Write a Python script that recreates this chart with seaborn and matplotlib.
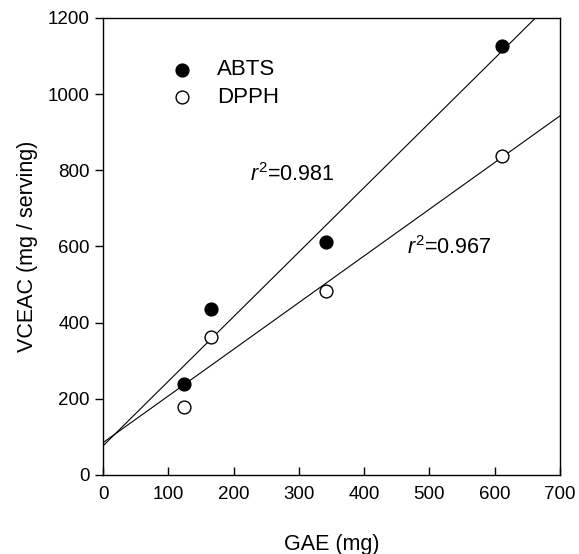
import numpy as np
import pandas as pd
import matplotlib
matplotlib.use("Agg")
import matplotlib.pyplot as plt
import seaborn as sns

sns.set_style("ticks")
plt.rcParams['font.family'] = ['Liberation Sans', 'DejaVu Sans']
plt.rcParams['mathtext.fontset'] = 'custom'
plt.rcParams['mathtext.rm'] = 'Liberation Sans'
plt.rcParams['mathtext.it'] = 'Liberation Sans:italic'
plt.rcParams['text.color'] = 'black'
plt.rcParams['axes.labelcolor'] = 'black'
plt.rcParams['xtick.color'] = 'black'
plt.rcParams['ytick.color'] = 'black'

# GAE (mg) vs VCEAC (mg / serving)
gae = [124, 165, 341, 612]
abts = [239, 435, 611, 1127]
dpph = [178, 363, 484, 837]

df_abts = pd.DataFrame({'GAE': gae, 'VCEAC': abts})
df_dpph = pd.DataFrame({'GAE': gae, 'VCEAC': dpph})

fig = plt.figure(figsize=(5.79, 5.54), dpi=100)
ax = fig.add_axes([0.178, 0.1426, 0.789, 0.825])
ax.set_xlim(0, 700)
ax.set_ylim(0, 1200)

# regression lines (extend to the axis limits)
sns.regplot(x='GAE', y='VCEAC', data=df_abts, ci=None, truncate=False, ax=ax,
            scatter=False, line_kws={'color': 'black', 'lw': 0.8})
sns.regplot(x='GAE', y='VCEAC', data=df_dpph, ci=None, truncate=False, ax=ax,
            scatter=False, line_kws={'color': 'black', 'lw': 0.8})

# points
sns.scatterplot(x='GAE', y='VCEAC', data=df_abts, ax=ax, color='black',
                edgecolor='black', linewidth=1, s=85, zorder=3, label='ABTS')
sns.scatterplot(x='GAE', y='VCEAC', data=df_dpph, ax=ax, color='white',
                edgecolor='black', linewidth=1, s=85, zorder=3, label='DPPH')

ax.set_xlim(0, 700)
ax.set_ylim(0, 1200)
ax.set_xticks(range(0, 701, 100))
ax.set_yticks(range(0, 1201, 200))
ax.tick_params(axis='x', direction='in', length=6, width=1, labelsize=13.5, pad=8)
ax.tick_params(axis='y', direction='out', length=6, width=1, labelsize=13.5)
for sp in ax.spines.values():
    sp.set_linewidth(1)
    sp.set_color('black')

ax.set_xlabel('GAE (mg)', fontsize=15.5, labelpad=22)
ax.set_ylabel('VCEAC (mg / serving)', fontsize=15.5, labelpad=7)

ax.legend(loc='upper left', bbox_to_anchor=(0.08, 0.953), frameon=False,
          fontsize=16, handletextpad=0.6, labelspacing=0.29, markerscale=1)

ax.text(225, 788, '$r^2$=0.981', fontsize=15.5, ha='left', va='center')
ax.text(465, 596, '$r^2$=0.967', fontsize=15.5, ha='left', va='center')

plt.savefig('out.png', dpi=100)
